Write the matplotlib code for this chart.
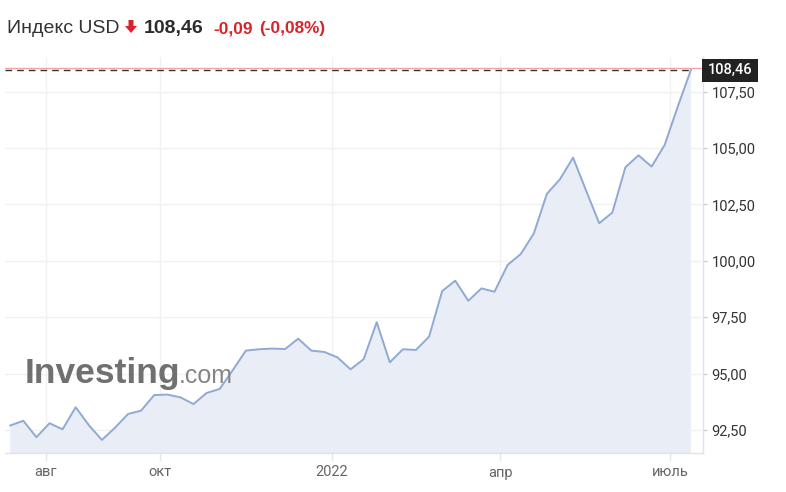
import matplotlib
matplotlib.use("Agg")
import matplotlib.pyplot as plt
import matplotlib.dates as mdates
from matplotlib.patches import Polygon, Rectangle
from matplotlib.ticker import FixedLocator, FuncFormatter
import pandas as pd

# ---------------- data ----------------
title = "Индекс USD"
last_price_text = "108,46"
change_text = "-0,09"
change_pct_text = "(-0,08%)"
last_value = 108.46
prev_close = 108.55

start_date = "2021-07-13"
values = [92.70, 92.91, 92.18, 92.80, 92.53, 93.51, 92.72, 92.06, 92.60, 93.21,
          93.36, 94.05, 94.07, 93.95, 93.65, 94.14, 94.32, 95.15, 96.02, 96.08,
          96.11, 96.09, 96.55, 96.02, 95.96, 95.72, 95.19, 95.64, 97.28, 95.50,
          96.08, 96.05, 96.64, 98.66, 99.12, 98.23, 98.78, 98.63, 99.82, 100.30,
          101.21, 102.97, 103.62, 104.58, 103.11, 101.67, 102.14, 104.15, 104.68, 104.18,
          105.14, 106.84, 108.46]
dates = pd.date_range(start_date, periods=len(values), freq="7D")

y_ticks = [92.5, 95.0, 97.5, 100.0, 102.5, 105.0, 107.5]
x_tick_dates = ["2021-08-01", "2021-10-01", "2022-01-01", "2022-04-01", "2022-07-01"]
x_tick_labels = ["авг", "окт", "2022", "апр", "июль"]

# ---------------- figure ----------------
W, H = 786, 492
fig = plt.figure(figsize=(W / 100, H / 100), dpi=100)
ax = fig.add_axes([5 / W, 39 / H, 698 / W, 396 / H])

d0 = mdates.date2num(dates[0])
ax.set_xlim(d0 - 2.8, d0 + 370.5)
ax.set_ylim(91.48, 109.04)

line_color = "#90aad3"
fill_color = "#e9edf5"

ax.fill_between(dates, values, 80, color=fill_color, lw=0, zorder=1)
ax.plot(dates, values, color=line_color, lw=1.4, zorder=3, solid_joinstyle="round")

# previous close (red) and last value (dashed)
ax.axhline(prev_close, color="#f4a4a4", lw=1.0, zorder=2)
ax.plot([ax.get_xlim()[0], mdates.date2num(dates[-1])], [last_value, last_value],
        color="#333333", lw=1.0, ls=(0, (4.8, 3.6)), zorder=4)

# grid and axes styling
ax.set_axisbelow(True)
ax.grid(True, color="#f1f1f1", lw=1.0)
for s in ["top", "left"]:
    ax.spines[s].set_visible(False)
for s in ["right", "bottom"]:
    ax.spines[s].set_color("#e3e3e3")
    ax.spines[s].set_linewidth(1.0)

ax.yaxis.tick_right()
ax.yaxis.set_major_locator(FixedLocator(y_ticks))
ax.yaxis.set_major_formatter(FuncFormatter(lambda v, p: f"{v:.2f}".replace(".", ",")))
ax.tick_params(axis="y", length=3, width=1, color="#cccccc", pad=3,
               labelsize=10.5, labelcolor="#333333")
for lab in ax.get_yticklabels():
    lab.set_fontfamily("Roboto")

ax.set_xticks([mdates.date2num(pd.Timestamp(d)) for d in x_tick_dates])
ax.set_xticklabels(x_tick_labels, fontfamily="Roboto")
ax.tick_params(axis="x", length=6, width=1, color="#e6e6e6", pad=3,
               labelsize=10.5, labelcolor="#666666")

# ---------------- last value label ----------------
fig.canvas.draw()
yd = ax.transData.transform((0, last_value))[1]
x_axis_right = ax.transAxes.transform((1, 0))[0]
bw, bh = 56, 23
rect = Rectangle((x_axis_right - 1, yd - bh / 2), bw, bh, transform=None,
                 facecolor="#222222", edgecolor="none", zorder=10)
fig.add_artist(rect)
fig.text((x_axis_right - 1 + bw / 2) / W, yd / H, last_price_text, ha="center", va="center",
         color="white", fontsize=10.5, fontfamily="Roboto", fontweight="medium", zorder=11)

# ---------------- header ----------------
def fy(py):
    return 1 - py / H

fig.text(7 / W, fy(33), title, fontsize=14, fontfamily="Liberation Sans",
         color="#333333", va="baseline")
arrow = Polygon([(128.5, 20), (133.5, 20), (133.5, 26), (137, 26), (131, 33),
                 (125, 26), (128.5, 26)], closed=True, facecolor="#d9232a",
                edgecolor="none")
arrow.set_transform(fig.transFigure)
arrow.set_xy([(x / W, fy(y)) for x, y in arrow.get_xy()])
fig.add_artist(arrow)
fig.text(144 / W, fy(33), last_price_text, fontsize=14, fontfamily="Liberation Sans",
         fontweight="bold", color="#2b2b2b", va="baseline")
fig.text(213 / W, fy(33), change_text, fontsize=12.4, fontfamily="Liberation Sans",
         fontweight="bold", color="#d9232a", va="baseline")
fig.text(259 / W, fy(33), change_pct_text, fontsize=12.4, fontfamily="Liberation Sans",
         fontweight="bold", color="#d9232a", va="baseline")

# ---------------- watermark ----------------
fig.text(25 / W, fy(383), "Investing", fontsize=25.5, fontfamily="Liberation Sans",
         fontweight="bold", color="#707070", va="baseline", zorder=5)
fig.text(179 / W, fy(383), ".com", fontsize=18, fontfamily="Liberation Sans",
         color="#858585", va="baseline", zorder=5)

fig.savefig("out.png", dpi=100)
